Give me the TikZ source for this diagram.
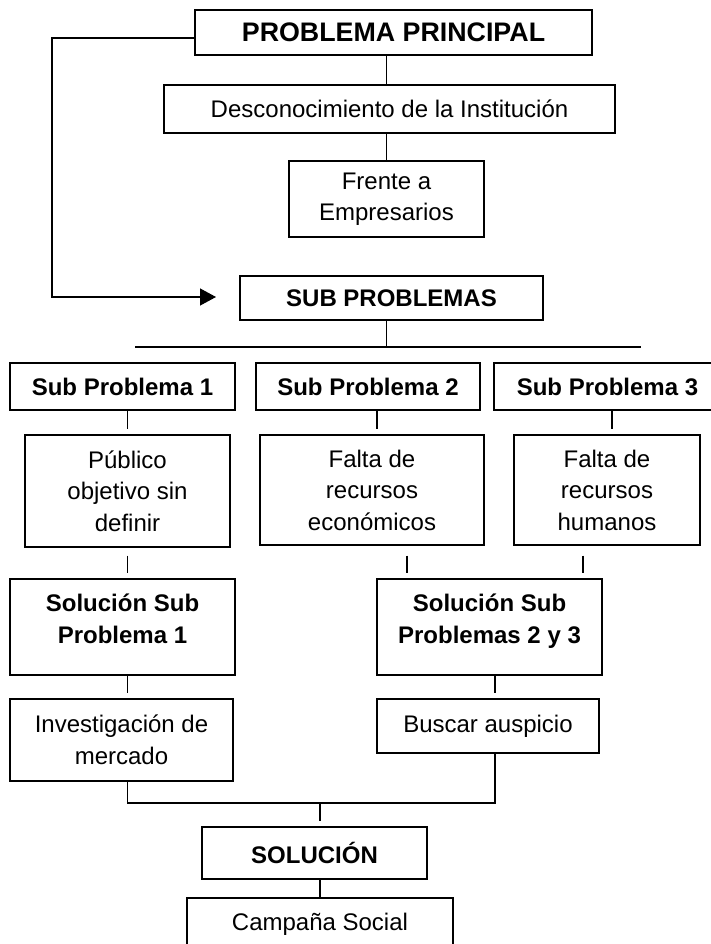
\documentclass[tikz,border=0pt]{standalone}
\usepackage{fontspec}
\setmainfont{Liberation Sans}
\usetikzlibrary{arrows.meta}
\begin{document}
\begin{tikzpicture}[x=1pt,y=-1pt,line width=1.3pt,
		box/.style={draw,inner sep=0pt,align=center,font=\fontsize{24}{31.5}\selectfont},
		bbox/.style={box,font=\fontsize{24}{31.5}\selectfont\bfseries},
		gap/.style={shorten >=5pt}]
		\useasboundingbox (0,0) rectangle (711,944);
		\node[bbox,minimum width=397,minimum height=45,font=\fontsize{26.8}{31.5}\selectfont\bfseries] (pp) at (393.5,32.5) {PROBLEMA PRINCIPAL};
		\node[box,minimum width=451,minimum height=48] (desc) at (389.5,109) {Desconocimiento de la Institución};
		\node[box,minimum width=195,minimum height=76] (frente) at (386.5,199) {Frente a\\Empresarios};
		\node[bbox,minimum width=303,minimum height=44] (sp) at (391.5,298) {SUB PROBLEMAS};
		\node[bbox,minimum width=225,minimum height=47] (sp1) at (122.5,386.5) {Sub Problema 1};
		\node[bbox,minimum width=224,minimum height=47] (sp2) at (368,386.5) {Sub Problema 2};
		\node[bbox,minimum width=227,minimum height=47] (sp3) at (607.5,386.5) {Sub Problema 3};
		\node[box,minimum width=205,minimum height=112] (pub) at (127.5,491) {Público\\objetivo sin\\definir};
		\node[box,minimum width=224,minimum height=110] (feco) at (372,490) {Falta de\\recursos\\económicos};
		\node[box,minimum width=186,minimum height=110] (fhum) at (607,490) {Falta de\\recursos\\humanos};
		\node[box,minimum width=225,minimum height=96,label={[font=\fontsize{24}{31.5}\selectfont\bfseries,align=center,yshift=8pt]center:{Solución Sub\\Problema 1}}] (sol1) at (122.5,627) {};
		\node[box,minimum width=225,minimum height=96,label={[font=\fontsize{24}{31.5}\selectfont\bfseries,align=center,yshift=6pt]center:{Solución Sub\\Problemas 2 y 3}}] (sol23) at (489.5,627) {};
		\node[box,minimum width=223,minimum height=82] (inv) at (121.5,740) {Investigación de\\mercado};
		\node[box,minimum width=222,minimum height=54] (bus) at (488,726) {Buscar auspicio};
		\node[bbox,minimum width=225,minimum height=52] (sol) at (314.5,853) {SOLUCIÓN};
		\node[box,minimum width=266,minimum height=52] (camp) at (320,924) {Campaña Social};
		\coordinate (bend) at (52,297);
		\coordinate (tip) at (216,297);
		\coordinate (barL) at (135,347);
		\coordinate (barR) at (641,347);
		\coordinate (merge) at (320,803);
		\draw[-{Triangle[length=16pt,width=17pt]}] ([yshift=-5.5pt]pp.west) -| (bend) -- (tip);
		\draw (frente.north |- pp.south) -- (frente.north |- desc.north);
		\draw (frente.north |- desc.south) -- (frente.north);
		\draw (frente.north |- sp.south) -- (frente.north |- barL);
		\draw (barL) -- (barR);
		\draw[gap] (pub.north |- sp1.south) -- (pub.north);
		\draw[gap] ([xshift=5pt]feco.north |- sp2.south) -- ([xshift=5pt]feco.north);
		\draw[gap] ([xshift=5pt]fhum.north |- sp3.south) -- ([xshift=5pt]fhum.north);
		\draw[gap,shorten <=8pt] (pub.south) -- (pub.south |- sol1.north);
		\draw[gap,shorten <=10pt] ([xshift=35pt]feco.south) -- ([xshift=35pt]feco.south |- sol23.north);
		\draw[gap,shorten <=10pt] ([xshift=-24pt]fhum.south) -- ([xshift=-24pt]fhum.south |- sol23.north);
		\draw[gap] (pub.south |- sol1.south) -- (pub.south |- inv.north);
		\draw[gap] ([xshift=7pt]bus.north |- sol23.south) -- ([xshift=7pt]bus.north);
		\draw (pub.south |- inv.south) |- ([xshift=7pt]bus.south |- merge) -- ([xshift=7pt]bus.south);
		\draw[gap] (merge) -- (merge |- sol.north);
		\draw (camp.north |- sol.south) -- (camp.north);
	\end{tikzpicture}
\end{document}
